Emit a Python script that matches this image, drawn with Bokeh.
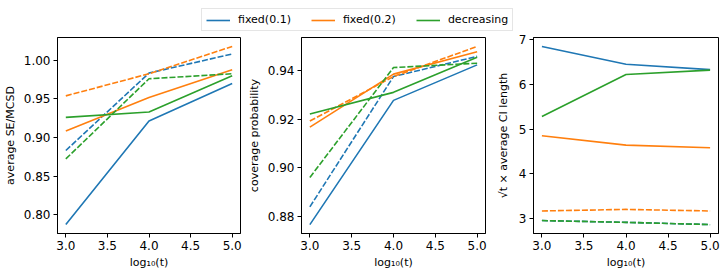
from bokeh.plotting import figure
from bokeh.layouts import row, column
from bokeh.models import Range1d, FixedTicker, PrintfTickFormatter, Legend, LegendItem
from bokeh.embed import file_html
from bokeh.resources import INLINE

# ---------------- data ----------------
log_t = [3.0, 4.0, 5.0]
x_ticks = [3.0, 3.5, 4.0, 4.5, 5.0]
methods = ["fixed(0.1)", "fixed(0.2)", "decreasing"]
colors = ["#1f77b4", "#ff7f0e", "#2ca02c"]

# panel 1: average SE / MCSD
se_fixed01 = [0.7874, 0.9215, 0.9700]
se_fixed02 = [0.9085, 0.9518, 0.9879]
se_decr = [0.9262, 0.9332, 0.9800]
se_fixed01_dash = [0.8833, 0.9835, 1.0082]
se_fixed02_dash = [0.9540, 0.9826, 1.0180]
se_decr_dash = [0.8724, 0.9761, 0.9826]
se_ticks = [0.80, 0.85, 0.90, 0.95, 1.00]

# panel 2: coverage probability
cov_fixed01 = [0.8766, 0.9277, 0.9423]
cov_fixed02 = [0.9167, 0.9385, 0.9477]
cov_decr = [0.9221, 0.9310, 0.9454]
cov_fixed01_dash = [0.8839, 0.9375, 0.9458]
cov_fixed02_dash = [0.9192, 0.9375, 0.9499]
cov_decr_dash = [0.8960, 0.9412, 0.9430]
cov_ticks = [0.88, 0.90, 0.92, 0.94]

# panel 3: sqrt(t) x average CI length
ci_fixed01 = [6.85, 6.45, 6.33]
ci_fixed02 = [4.85, 4.64, 4.58]
ci_decr = [5.28, 6.22, 6.32]
ci_fixed01_dash = [2.95, 2.91, 2.86]
ci_fixed02_dash = [3.165, 3.20, 3.165]
ci_decr_dash = [2.95, 2.91, 2.86]
ci_ticks = [3, 4, 5, 6, 7]

FONT = "DejaVu Sans"
FS = "11px"
TFS = "12px"
LW = 1.6
DASH = "6 2"


def padded(vals, frac=0.05):
    lo, hi = min(vals), max(vals)
    d = (hi - lo) * frac
    return lo - d, hi + d


def make_panel(solid, dashed, yticks, yfmt, ylabel, width, mb_left, mb_right, label_standoff):
    allv = [v for s in solid + dashed for v in s]
    y0, y1 = padded(allv)
    x0, x1 = padded(log_t)
    p = figure(width=width, height=244, output_backend="svg", toolbar_location=None,
               x_range=Range1d(x0, x1), y_range=Range1d(y0, y1),
               min_border_left=mb_left, min_border_right=mb_right,
               min_border_top=5, min_border_bottom=43)
    p.grid.visible = False
    p.outline_line_color = "black"
    p.outline_line_width = 1
    for s, d, c in zip(solid, dashed, colors):
        p.line(log_t, s, line_color=c, line_width=LW)
        p.line(log_t, d, line_color=c, line_width=LW, line_dash=DASH)
    for ax in (p.xaxis[0], p.yaxis[0]):
        ax.major_label_text_font = FONT
        ax.major_label_text_font_size = TFS
        ax.major_label_text_color = "black"
        ax.axis_label_text_font = FONT
        ax.axis_label_text_font_size = FS
        ax.axis_label_text_font_style = "normal"
        ax.axis_label_text_color = "black"
        ax.axis_line_color = "black"
        ax.major_tick_line_color = "black"
        ax.major_tick_out = 4
        ax.major_tick_in = 0
        ax.minor_tick_line_color = None
        ax.major_label_standoff = 3
    p.xaxis[0].ticker = FixedTicker(ticks=x_ticks)
    p.xaxis[0].formatter = PrintfTickFormatter(format="%.1f")
    p.xaxis[0].axis_label = "log₁₀(t)"
    p.xaxis[0].axis_label_standoff = 3
    p.yaxis[0].ticker = FixedTicker(ticks=yticks)
    p.yaxis[0].formatter = PrintfTickFormatter(format=yfmt)
    p.yaxis[0].axis_label = ylabel
    p.yaxis[0].axis_label_standoff = label_standoff
    return p


p1 = make_panel([se_fixed01, se_fixed02, se_decr],
                [se_fixed01_dash, se_fixed02_dash, se_decr_dash],
                se_ticks, "%.2f", "average SE/MCSD", 244, 55, 4, 4)
p2 = make_panel([cov_fixed01, cov_fixed02, cov_decr],
                [cov_fixed01_dash, cov_fixed02_dash, cov_decr_dash],
                cov_ticks, "%.2f", "coverage probability", 246, 57, 5, 4)
p3 = make_panel([ci_fixed01, ci_fixed02, ci_decr],
                [ci_fixed01_dash, ci_fixed02_dash, ci_decr_dash],
                ci_ticks, "%d", "√t × average CI length", 237, 43, 9, 6)

# legend strip
lf = figure(width=727, height=32, output_backend="svg", toolbar_location=None,
            x_range=Range1d(0, 1), y_range=Range1d(0, 1),
            x_axis_type=None, y_axis_type=None, min_border=0)
lf.grid.visible = False
lf.outline_line_color = None
items = []
for m, c in zip(methods, colors):
    r = lf.line([-10, -9], [-10, -9], line_color=c, line_width=LW)
    items.append(LegendItem(label=m, renderers=[r]))
legend = Legend(items=items, orientation="horizontal", location=(201, 1),
                glyph_width=24, glyph_height=12, label_height=12, label_width=10,
                label_standoff=8, spacing=20, padding=4, margin=0,
                border_line_color="#cccccc", border_line_width=1,
                label_text_font=FONT, label_text_font_size=FS,
                label_text_color="black")
lf.add_layout(legend)

layout = column(lf, row(p1, p2, p3, spacing=0), spacing=0)

open("out.html", "w").write(file_html(layout, INLINE))
